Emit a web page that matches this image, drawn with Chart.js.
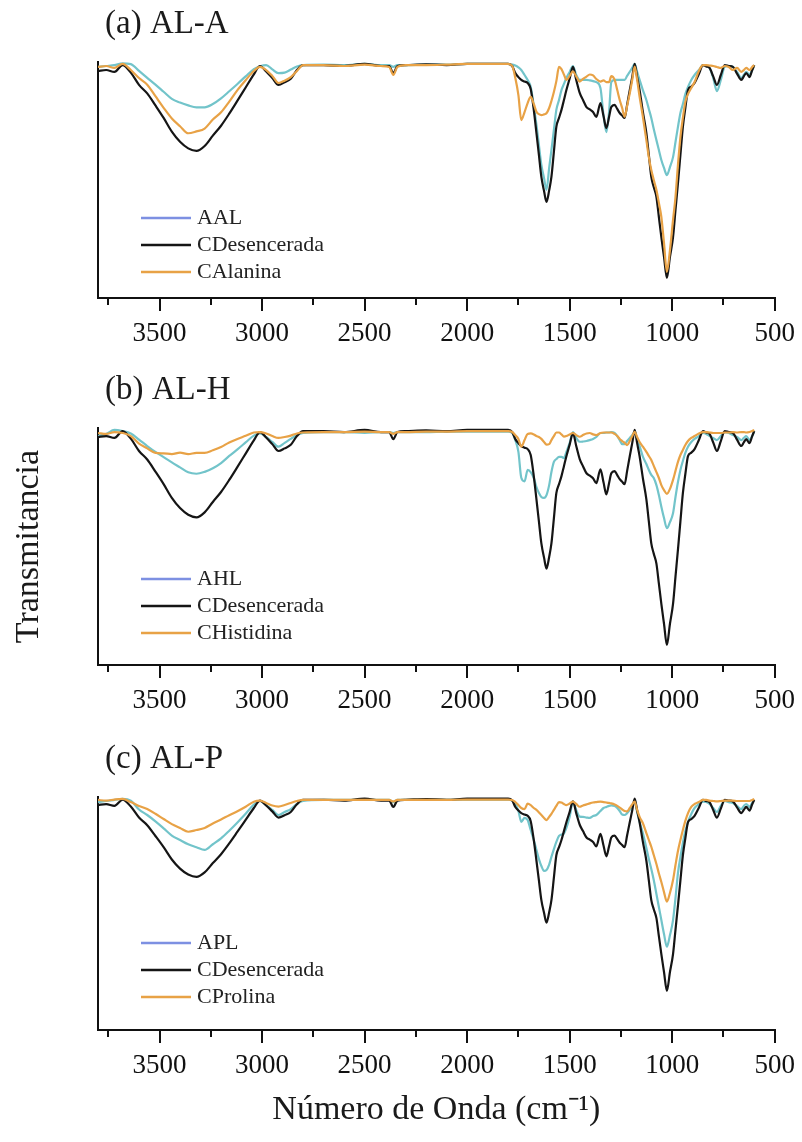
<!DOCTYPE html>
<html>
<head>
<meta charset="utf-8">
<title>Espectros FTIR</title>
<script src="https://cdn.jsdelivr.net/npm/chart.js@4.4.1/dist/chart.umd.min.js"></script>
<style>
  html, body { margin: 0; padding: 0; background: #ffffff; }
  #wrap { position: relative; width: 802px; height: 1142px; overflow: hidden; }
  #wrap canvas { position: absolute; left: 0; }
</style>
</head>
<body>
<div id="wrap">
  <canvas id="pa" width="802" height="360" style="top:0px"></canvas>
  <canvas id="pb" width="802" height="362" style="top:366px"></canvas>
  <canvas id="pc" width="802" height="407" style="top:735px"></canvas>
</div>
<script>
// Wavenumber grid (cm-1), shared by every spectrum
const wavenumber = [
  3800, 3760, 3720, 3680, 3640, 3600, 3560, 3520, 3480, 3440, 3400, 3360, 3320, 3280,
  3240, 3200, 3160, 3120, 3080, 3040, 3010, 2980, 2950, 2920, 2890, 2860, 2830, 2800,
  2700, 2600, 2500, 2420, 2380, 2360, 2340, 2300, 2200, 2100, 2000, 1900, 1800,
  1780, 1765, 1750, 1736, 1720, 1705, 1690, 1675, 1662, 1650, 1638, 1625, 1613, 1600, 1589,
  1577, 1565, 1552, 1540, 1528, 1516, 1500, 1484, 1468, 1451, 1435, 1418, 1402, 1386, 1370,
  1350, 1335, 1321, 1308, 1297, 1281, 1268, 1256, 1244, 1232, 1220, 1207, 1195, 1183, 1171,
  1159, 1143, 1126, 1114, 1102, 1090, 1077, 1065, 1053, 1040, 1026, 1011, 996, 984, 972,
  960, 948, 936, 923, 907, 891, 870, 850, 834, 818, 800, 782, 763, 744, 724,
  704, 684, 663, 651, 639, 623, 610, 600
];

// Dewaxed reference (CDesencerada), same spectrum in the three panels
const cDesencerada = [
  96.2, 96.6, 95.8, 98.7, 95.5, 90.3, 86.7, 81.6, 76.3, 70.5, 66.2, 63.4, 62.3, 64.4,
  68.8, 73.0, 78.1, 83.6, 89.2, 94.8, 98.3, 96.0, 93.2, 90.3, 91.4, 92.9, 96.6, 98.7,
  98.7, 98.3, 99.2, 98.3, 98.3, 95.3, 98.3, 98.7, 99.0, 98.7, 99.2, 99.2, 99.2,
  98.3, 95.3, 93.6, 92.4, 91.7, 91.1, 88.6, 79.7, 69.9, 60.6, 51.3, 45.3, 40.7, 45.6, 51.3,
  61.9, 72.5, 76.3, 79.7, 83.9, 88.1, 93.0, 97.9, 92.4, 86.9, 83.9, 80.9, 79.9, 78.8, 76.7,
  82.6, 77.1, 72.0, 76.7, 80.9, 81.8, 80.1, 78.4, 77.3, 76.3, 81.8, 88.1, 93.6, 99.2, 93.6,
  88.1, 78.8, 69.9, 60.6, 51.3, 47.0, 42.8, 34.3, 25.8, 17.4, 8.5, 17.4, 25.8, 37.3, 48.7,
  60.6, 72.5, 80.5, 88.1, 89.6, 91.1, 94.9, 98.7, 98.1, 97.5, 93.9, 90.3, 94.5, 98.7, 98.3,
  97.9, 95.1, 92.4, 93.9, 95.3, 93.6, 96.6, 98.7
];

// (a) AL-A
const aal = [
  97.9, 98.3, 98.7, 99.4, 99.1, 96.2, 93.3, 90.4, 87.4, 84.4, 82.8, 81.6, 80.8, 80.8,
  82.2, 84.6, 87.6, 90.7, 93.9, 97.0, 98.2, 98.7, 96.9, 95.3, 95.5, 96.8, 98.1, 98.7,
  98.9, 98.7, 99.2, 98.7, 98.7, 97.9, 98.7, 98.7, 98.9, 98.9, 99.2, 99.2, 99.2,
  98.9, 98.5, 97.7, 96.6, 94.5, 92.4, 89.4, 81.4, 73.3, 64.8, 56.4, 50.8, 45.8, 55.1, 62.7,
  71.2, 79.7, 83.9, 88.1, 90.7, 93.2, 95.8, 98.3, 94.5, 92.4, 92.4, 92.4, 92.2, 91.9, 91.5,
  89.0, 77.5, 70.3, 78.8, 91.5, 92.4, 92.4, 92.4, 92.4, 92.4, 94.1, 95.8, 97.5, 99.2, 95.8,
  92.4, 88.1, 83.9, 80.1, 76.3, 71.6, 66.9, 62.7, 58.5, 55.1, 52.1, 55.5, 59.7, 66.1, 72.5,
  78.4, 82.2, 86.4, 89.4, 92.4, 94.5, 96.6, 98.7, 98.3, 97.5, 93.2, 87.7, 92.4, 97.9, 98.3,
  97.9, 95.8, 93.2, 94.5, 95.8, 94.5, 96.6, 98.7
];
const cAlanina = [
  97.9, 98.3, 97.5, 99.2, 96.6, 93.2, 90.4, 85.5, 80.6, 76.1, 72.8, 69.8, 70.6, 71.8,
  75.6, 78.7, 83.2, 88.1, 92.3, 96.2, 97.9, 96.6, 94.1, 91.1, 92.1, 93.6, 96.2, 98.7,
  98.7, 98.3, 98.9, 98.3, 97.9, 94.5, 97.9, 98.7, 98.7, 98.9, 99.2, 99.2, 99.2,
  98.3, 93.2, 86.0, 75.4, 78.8, 82.6, 85.2, 82.2, 78.9, 77.9, 77.5, 77.8, 78.3, 80.5, 83.5,
  87.3, 91.9, 97.9, 97.0, 94.7, 92.4, 94.1, 96.0, 93.9, 91.7, 92.8, 93.8, 94.7, 94.3, 92.8,
  91.7, 92.2, 91.5, 91.5, 94.0, 92.5, 88.1, 83.9, 80.5, 76.8, 81.4, 86.7, 92.4, 98.0, 92.4,
  85.2, 76.8, 66.9, 59.7, 54.2, 50.0, 45.8, 40.3, 34.4, 23.3, 11.1, 20.3, 33.1, 42.8, 56.4,
  68.2, 76.3, 83.1, 86.4, 89.0, 91.5, 96.2, 98.7, 98.7, 98.5, 98.3, 97.9, 97.5, 98.3, 97.9,
  96.6, 97.5, 95.8, 96.6, 97.5, 96.6, 97.9, 98.7
];

// (b) AL-H
const ahl = [
  96.6, 97.5, 99.2, 98.7, 97.7, 95.1, 92.4, 89.9, 87.7, 85.5, 83.4, 81.3, 80.7, 81.5,
  83.0, 85.2, 88.2, 91.0, 93.9, 96.8, 97.7, 96.2, 94.1, 92.1, 93.7, 95.4, 97.0, 97.9,
  98.3, 98.3, 97.9, 98.3, 98.3, 97.9, 98.3, 98.3, 98.3, 98.5, 98.5, 98.5, 98.5,
  97.9, 94.9, 89.9, 79.0, 77.5, 82.3, 81.4, 78.9, 75.1, 72.6, 70.9, 70.5, 71.7, 75.9, 81.4,
  85.7, 86.9, 87.8, 87.8, 87.3, 89.9, 93.7, 98.3, 95.8, 94.2, 94.3, 94.5, 94.9, 95.4, 96.2,
  97.9, 97.9, 98.1, 98.1, 98.3, 97.9, 96.6, 94.9, 93.2, 93.2, 94.5, 95.8, 97.0, 98.3, 94.9,
  92.4, 87.9, 84.8, 82.3, 80.2, 78.9, 75.9, 71.7, 66.8, 62.0, 57.7, 60.3, 64.0, 70.9, 77.2,
  82.3, 86.1, 89.5, 92.1, 94.1, 95.4, 96.6, 97.9, 97.5, 96.6, 95.8, 94.9, 96.6, 98.3, 97.9,
  97.0, 96.2, 94.9, 95.8, 96.6, 94.9, 96.6, 98.7
];
const cHistidina = [
  97.9, 97.5, 98.3, 97.9, 96.6, 93.4, 91.4, 89.5, 89.3, 89.0, 89.6, 89.0, 89.5, 89.5,
  90.6, 92.0, 93.9, 95.4, 96.7, 98.1, 98.3, 97.7, 96.6, 95.8, 96.2, 96.8, 97.7, 98.1,
  98.3, 98.3, 98.5, 98.3, 98.3, 97.5, 98.3, 98.3, 98.5, 98.5, 98.7, 98.7, 98.7,
  98.3, 97.0, 95.4, 92.1, 94.9, 97.5, 97.7, 97.3, 96.6, 96.2, 95.4, 94.1, 93.0, 93.2, 94.9,
  96.6, 98.1, 98.1, 97.3, 96.4, 96.6, 97.3, 97.9, 97.0, 96.3, 97.0, 97.7, 97.9, 97.3, 97.0,
  97.9, 98.1, 98.1, 98.1, 98.1, 97.5, 96.6, 95.4, 94.5, 93.7, 92.8, 94.5, 96.6, 98.4, 96.2,
  94.1, 92.1, 89.9, 88.2, 86.5, 84.0, 81.4, 78.9, 75.9, 73.8, 72.2, 74.3, 78.1, 81.9, 85.7,
  88.6, 90.7, 92.8, 94.5, 95.8, 96.6, 97.7, 98.3, 98.3, 98.1, 97.9, 97.9, 97.9, 98.1, 98.1,
  98.3, 98.1, 98.3, 98.3, 98.1, 98.3, 98.7, 99.2
];

// (c) AL-P
const apl = [
  97.6, 98.1, 98.6, 99.1, 98.3, 94.1, 91.5, 88.5, 85.2, 81.8, 79.7, 77.7, 76.3, 75.0,
  77.7, 80.5, 84.1, 88.0, 92.1, 96.4, 98.1, 96.2, 93.9, 91.5, 92.9, 94.3, 96.7, 98.1,
  98.6, 98.6, 98.6, 98.6, 98.6, 97.6, 98.6, 98.6, 98.6, 98.6, 98.8, 98.8, 98.8,
  98.3, 96.7, 93.4, 88.3, 90.1, 89.1, 84.4, 79.7, 75.0, 70.7, 67.4, 65.1, 65.5, 68.1, 71.7,
  75.4, 78.8, 81.6, 82.3, 82.8, 85.4, 90.7, 97.8, 93.9, 90.7, 90.6, 90.3, 90.1, 91.0, 91.5,
  93.4, 94.8, 95.3, 95.8, 96.0, 95.8, 94.8, 93.4, 91.7, 91.5, 92.4, 93.9, 95.8, 97.8, 92.9,
  88.2, 82.9, 75.9, 70.7, 66.0, 60.8, 54.2, 48.1, 41.9, 35.3, 29.3, 34.8, 41.9, 52.3, 64.0,
  71.7, 78.3, 83.9, 88.2, 92.0, 94.8, 96.7, 97.8, 97.6, 96.7, 94.8, 92.9, 95.8, 98.1, 97.6,
  97.2, 95.8, 94.3, 95.8, 96.7, 95.3, 97.2, 98.6
];
const cProlina = [
  98.6, 98.3, 98.8, 99.1, 97.6, 95.8, 94.3, 92.1, 89.6, 87.2, 85.4, 83.6, 84.4, 85.4,
  87.5, 89.4, 91.4, 93.3, 95.4, 97.8, 98.3, 97.2, 96.0, 95.5, 96.2, 97.2, 98.1, 98.6,
  98.6, 98.6, 98.6, 98.6, 98.6, 97.9, 98.6, 98.6, 98.6, 98.6, 98.8, 98.8, 98.8,
  98.6, 97.6, 96.2, 94.8, 94.3, 96.9, 96.2, 94.8, 93.9, 92.7, 91.5, 90.1, 89.1, 90.6, 92.0,
  93.9, 95.8, 97.6, 97.4, 96.7, 96.2, 96.9, 97.8, 96.7, 95.4, 96.0, 96.5, 97.0, 97.4, 97.6,
  97.8, 97.6, 97.4, 97.2, 97.0, 96.5, 95.8, 95.0, 94.1, 93.4, 93.2, 94.8, 96.5, 97.8, 93.9,
  90.6, 87.6, 83.0, 79.7, 76.5, 72.6, 68.4, 63.9, 59.9, 55.1, 50.6, 54.7, 60.8, 67.9, 74.5,
  79.7, 84.4, 88.7, 92.4, 95.3, 96.7, 97.6, 98.6, 98.6, 98.3, 98.1, 97.9, 98.1, 98.3, 98.3,
  98.3, 98.1, 98.1, 98.1, 98.1, 98.1, 98.6, 99.1
];

// Axis ticks (cm-1)
const majorTicks = [3500, 3000, 2500, 2000, 1500, 1000, 500];
const minorTicks = [3750, 3250, 2750, 2250, 1750, 1250, 750];

const SERIF = "'Liberation Serif', 'Times New Roman', serif";
const SAMPLE_COLOR = '#72c4ca';
const SAMPLE_KEY_COLOR = '#7d90e2';
const REF_COLOR = '#151515';
const AMINO_COLOR = '#e8a246';
const AXIS_COLOR = '#111111';

function seriesPoints(values) {
  return wavenumber.map((w, i) => ({ x: w, y: values[i] }));
}

// Minor ticks, panel caption and the in-plot key
const panelDecor = {
  id: 'panelDecor',
  afterDraw(chart, args, opts) {
    const { ctx, chartArea, scales } = chart;
    const x = scales.x;
    ctx.save();
    ctx.strokeStyle = AXIS_COLOR;
    ctx.lineWidth = 2;
    minorTicks.forEach(v => {
      const px = Math.round(x.getPixelForValue(v));
      ctx.beginPath();
      ctx.moveTo(px, chartArea.bottom);
      ctx.lineTo(px, chartArea.bottom + 7);
      ctx.stroke();
    });

    ctx.fillStyle = '#1a1a1a';
    ctx.font = '33px ' + SERIF;
    ctx.textAlign = 'left';
    ctx.textBaseline = 'alphabetic';
    ctx.fillText(opts.caption, chartArea.left + 7, chartArea.top - 29);

    ctx.font = '22px ' + SERIF;
    ctx.textBaseline = 'middle';
    chart.data.datasets.forEach((ds, i) => {
      const y = chartArea.top + opts.keyTop + i * 27;
      ctx.strokeStyle = ds.keyColor || ds.borderColor;
      ctx.lineWidth = 2.5;
      ctx.beginPath();
      ctx.moveTo(chartArea.left + 43, y);
      ctx.lineTo(chartArea.left + 93, y);
      ctx.stroke();
      ctx.fillStyle = '#222222';
      ctx.fillText(ds.label, chartArea.left + 99, y);
    });
    ctx.restore();
  }
};

function buildPanel(cfg) {
  return new Chart(document.getElementById(cfg.id), {
    type: 'line',
    data: {
      datasets: [
        { label: cfg.names[0], data: seriesPoints(cfg.sample), borderColor: SAMPLE_COLOR, keyColor: SAMPLE_KEY_COLOR, order: 2 },
        { label: cfg.names[1], data: seriesPoints(cDesencerada), borderColor: REF_COLOR, order: 1 },
        { label: cfg.names[2], data: seriesPoints(cfg.amino), borderColor: AMINO_COLOR, order: 0 }
      ]
    },
    options: {
      responsive: false,
      animation: false,
      events: [],
      layout: { padding: { top: 62, right: 26, bottom: 0, left: 0 } },
      elements: {
        point: { radius: 0 },
        line: { borderWidth: 2.2, cubicInterpolationMode: 'monotone', fill: false }
      },
      plugins: {
        legend: { display: false },
        tooltip: { enabled: false },
        panelDecor: { caption: cfg.caption, keyTop: cfg.keyTop }
      },
      scales: {
        x: {
          type: 'linear',
          reverse: true,
          min: 500,
          max: 3800,
          afterBuildTicks: s => { s.ticks = majorTicks.map(v => ({ value: v })); },
          afterFit: s => { s.height = cfg.xHeight; },
          grid: { drawOnChartArea: false, drawTicks: true, tickLength: 13, lineWidth: 2, color: AXIS_COLOR },
          border: { display: true, color: AXIS_COLOR, width: 2 },
          ticks: {
            font: { family: SERIF, size: 27 },
            color: '#111111',
            padding: 7,
            maxRotation: 0,
            autoSkip: false,
            callback: v => String(v)
          },
          title: {
            display: !!cfg.xTitle,
            text: cfg.xTitle || '',
            color: '#1a1a1a',
            font: { family: SERIF, size: 34 },
            padding: { top: 0, bottom: 12 }
          }
        },
        y: {
          min: cfg.yMin,
          max: 100,
          afterFit: s => { s.width = 98; },
          ticks: { display: false },
          grid: { display: false },
          border: { display: true, color: AXIS_COLOR, width: 2 },
          title: {
            display: !!cfg.yTitle,
            text: cfg.yTitle || '',
            color: '#1a1a1a',
            font: { family: SERIF, size: 34 },
            padding: { top: 9, bottom: 0 }
          }
        }
      }
    },
    plugins: [panelDecor]
  });
}

buildPanel({ id: 'pa', caption: '(a) AL-A', names: ['AAL', 'CDesencerada', 'CAlanina'],
  sample: aal, amino: cAlanina, yMin: 0, xHeight: 62, keyTop: 156 });
buildPanel({ id: 'pb', caption: '(b) AL-H', names: ['AHL', 'CDesencerada', 'CHistidina'],
  sample: ahl, amino: cHistidina, yMin: 0, xHeight: 63, keyTop: 151, yTitle: 'Transmitancia' });
buildPanel({ id: 'pc', caption: '(c) AL-P', names: ['APL', 'CDesencerada', 'CProlina'],
  sample: apl, amino: cProlina, yMin: -10, xHeight: 112, keyTop: 146, xTitle: 'Número de Onda (cm⁻¹)' });
</script>
</body>
</html>
